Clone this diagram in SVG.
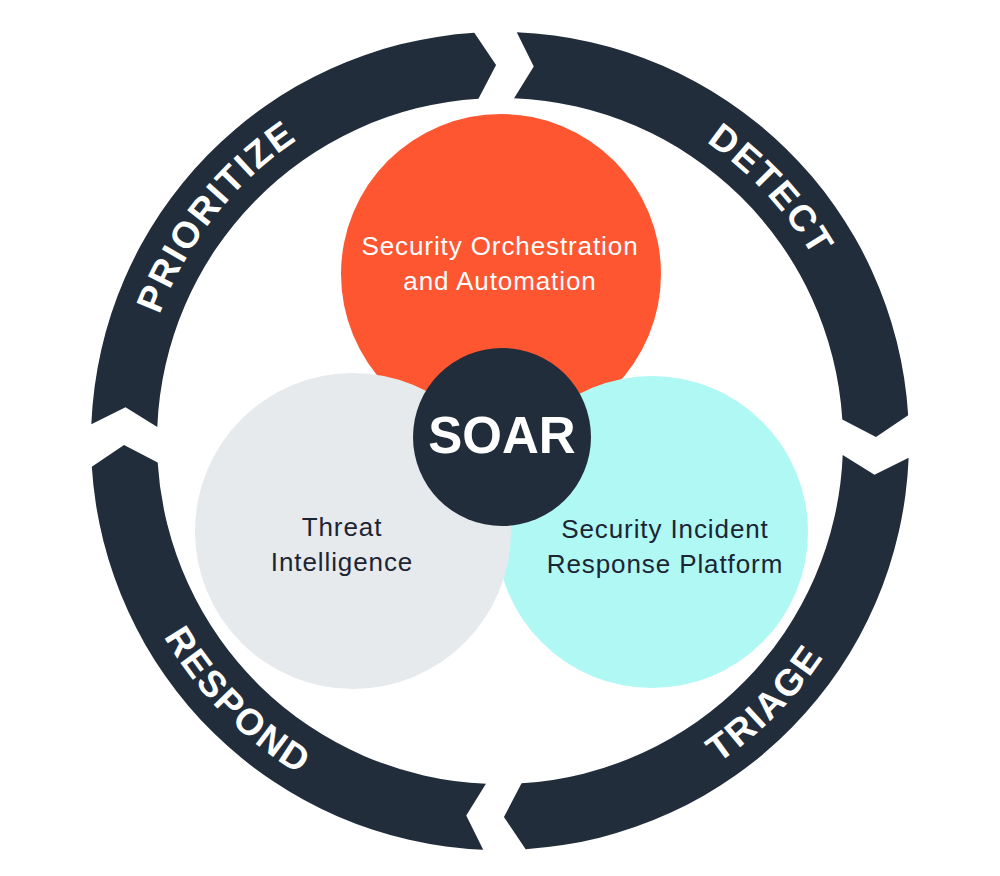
<svg xmlns="http://www.w3.org/2000/svg" width="1000" height="876" viewBox="0 0 1000 876">
  <style>
    .seg { fill: #222d3b; }
    .stage { font-family: "Liberation Sans", Arial, sans-serif; font-weight: 700; font-size: 37px; fill: #ffffff; letter-spacing: 2px; }
    .lbl { font-family: "Liberation Sans", Arial, sans-serif; font-size: 26px; letter-spacing: 0.9px; text-anchor: middle; }
    .lbl-w { fill: #ffffff; }
    .lbl-d { fill: #1c2533; }
    .core { font-family: "Liberation Sans", Arial, sans-serif; font-weight: 700; font-size: 51px; fill: #ffffff; text-anchor: middle; }
  </style>
  <defs>
    <path id="seg" d="M516.77,32.34 A409,409 0 0 1 908.19,415.32 L875.98,437.06 L842.32,419.46 A343,343 0 0 0 514.06,98.29 L533.75,66.52 Z"/>
    <path id="p-detect" d="M419.58,87.02 A363,363 0 0 1 846.77,548.34"/>
    <path id="p-prioritize" d="M162.73,575.22 A363,363 0 0 1 552.40,81.80"/>
    <path id="p-triage" d="M401.29,817.27 A389,389 0 0 0 875.21,338.35"/>
    <path id="p-respond" d="M124.79,338.35 A389,389 0 0 0 598.71,817.27"/>
  </defs>
  <rect width="1000" height="876" fill="#ffffff"/>

  <g id="connectors"></g>

  <g id="stage-detect">
    <use href="#seg" class="seg"/>
    <text class="stage"><textPath href="#p-detect" startOffset="50%" text-anchor="middle">DETECT</textPath></text>
  </g>
  <g id="stage-triage">
    <use href="#seg" class="seg" transform="rotate(90 500 441)"/>
    <text class="stage"><textPath href="#p-triage" startOffset="50%" text-anchor="middle">TRIAGE</textPath></text>
  </g>
  <g id="stage-respond">
    <use href="#seg" class="seg" transform="rotate(180 500 441)"/>
    <text class="stage"><textPath href="#p-respond" startOffset="50%" text-anchor="middle">RESPOND</textPath></text>
  </g>
  <g id="stage-prioritize">
    <use href="#seg" class="seg" transform="rotate(270 500 441)"/>
    <text class="stage"><textPath href="#p-prioritize" startOffset="50%" text-anchor="middle">PRIORITIZE</textPath></text>
  </g>

  <g id="node-orchestration">
    <circle cx="501" cy="274" r="160" fill="#fe5630"/>
    <text class="lbl lbl-w" x="500" y="255">Security Orchestration</text>
    <text class="lbl lbl-w" x="500" y="290">and Automation</text>
  </g>
  <g id="node-sirp">
    <circle cx="652" cy="532" r="156" fill="#b0f8f3"/>
    <text class="lbl lbl-d" x="665" y="538">Security Incident</text>
    <text class="lbl lbl-d" x="665" y="573">Response Platform</text>
  </g>
  <g id="node-threat">
    <circle cx="353" cy="531" r="158" fill="#e7eaed"/>
    <text class="lbl lbl-d" x="342" y="536">Threat</text>
    <text class="lbl lbl-d" x="342" y="571">Intelligence</text>
  </g>
  <g id="node-soar">
    <circle cx="502" cy="437" r="89" fill="#222d3b"/>
    <text class="core" x="502" y="453">SOAR</text>
  </g>
</svg>
